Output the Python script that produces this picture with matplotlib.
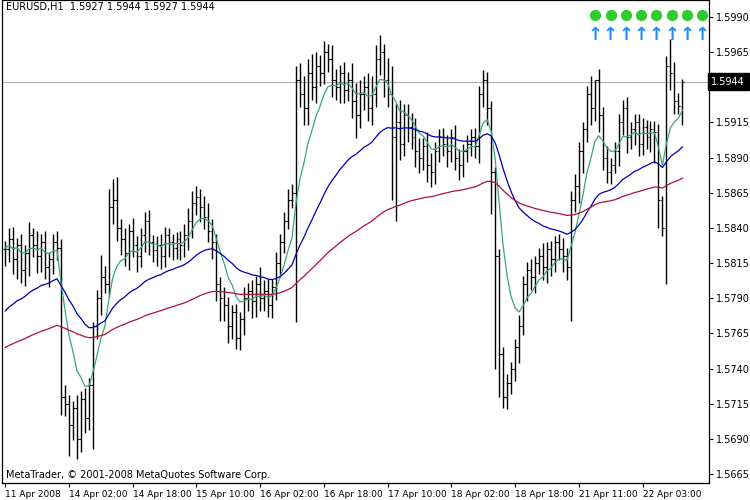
import numpy as np
import matplotlib
matplotlib.use("Agg")
import matplotlib.pyplot as plt

# hourly closes
closes = [1.5825, 1.5832, 1.5818, 1.5828, 1.5810, 1.5822, 1.5835, 1.5828, 1.5820, 1.5830,
          1.5812, 1.5818, 1.5830, 1.5826,
          1.5720,
          1.5715, 1.5700, 1.5712, 1.5690, 1.5718, 1.5705, 1.5728,
          1.5770,
          1.5790, 1.5805, 1.5800,
          1.5855, 1.5860, 1.5840,
          1.5832, 1.5822, 1.5838, 1.5828, 1.5820, 1.5835, 1.5845, 1.5830, 1.5824, 1.5828,
          1.5820, 1.5835, 1.5830, 1.5826, 1.5832, 1.5828,
          1.5835, 1.5845, 1.5858, 1.5862, 1.5855, 1.5848, 1.5838, 1.5830,
          1.5800, 1.5790, 1.5785, 1.5770, 1.5780, 1.5762, 1.5775, 1.5790,
          1.5795, 1.5788, 1.5800, 1.5790, 1.5795, 1.5785, 1.5798,
          1.5815, 1.5830, 1.5845, 1.5860, 1.5865,
          1.5945,
          1.5935, 1.5925, 1.5950, 1.5940, 1.5955, 1.5950, 1.5965, 1.5960, 1.5945, 1.5940,
          1.5950, 1.5938, 1.5945,
          1.5930, 1.5920, 1.5935, 1.5940, 1.5925, 1.5935, 1.5960, 1.5965, 1.5945,
          1.5935, 1.5905, 1.5915, 1.5900, 1.5920,
          1.5912, 1.5905, 1.5895, 1.5890, 1.5898, 1.5885, 1.5880, 1.5895, 1.5905, 1.5900,
          1.5895, 1.5905, 1.5890, 1.5885, 1.5895, 1.5900, 1.5905, 1.5898,
          1.5935, 1.5945, 1.5925,
          1.5880,
          1.5820, 1.5750,
          1.5720, 1.5730, 1.5740, 1.5755, 1.5770, 1.5800,
          1.5810, 1.5805, 1.5815, 1.5820, 1.5812, 1.5825, 1.5818, 1.5830, 1.5825, 1.5820, 1.5812,
          1.5860, 1.5870, 1.5895, 1.5910,
          1.5935, 1.5925, 1.5945, 1.5920,
          1.5890, 1.5880, 1.5885, 1.5895,
          1.5915, 1.5925, 1.5905, 1.5910, 1.5915, 1.5900, 1.5912, 1.5905, 1.5910, 1.5908,
          1.5860, 1.5840,
          1.5955,
          1.5950, 1.5930, 1.5927, 1.5944]

# wick above / below the bar body, in pips
wick_up = [6, 8, 9, 5, 8, 6, 9, 5, 10, 6, 8, 5, 6, 8,
           6,
           8, 6, 5, 9, 6, 8, 5,
           3,
           6, 16, 8,
           13, 15, 16,
           6, 8, 5, 9, 6, 5, 6, 8, 5, 6, 8, 6, 5, 6, 5, 6,
           8, 9, 8, 8, 6, 8, 10, 8,
           6, 5, 8, 6, 5, 6, 5, 8,
           6, 8, 6, 12, 8, 9, 6,
           8, 6, 6, 8, 6,
           10,
           12, 13, 10, 14, 10, 8, 8, 6, 10, 8, 6, 8, 6,
           12, 13, 10, 8, 10, 13, 10, 12, 6,
           16, 20, 13, 16, 8,
           8, 10, 13, 9, 6, 10, 8, 6, 5, 6, 6, 5, 8, 6, 5, 6, 5, 6,
           6, 7, 6,
           5,
           3, 5,
           5, 6, 5, 6, 8, 6,
           6, 8, 5, 6, 9, 5, 6, 4, 6, 8, 6,
           6, 8, 6, 5,
           6, 13, 0, 8,
           6, 8, 5, 6,
           6, 6, 8, 5, 6, 6, 6, 5, 6, 6,
           6, 3,
           7,
           19, 8, 6, 2]
wick_dn = [12, 9, 11, 14, 9, 11, 16, 9, 12, 11, 8, 14, 11, 9,
           13,
           9, 22, 11, 14, 9, 11, 9,
           45,
           9, 12, 6,
           9, 12, 9,
           11, 9, 12, 9, 11, 8, 12, 9, 8, 11, 9, 8, 11, 9, 8, 11,
           9, 11, 12, 9, 11, 9, 8, 12,
           12, 16, 11, 12, 9, 8, 9, 11,
           9, 12, 11, 9, 9, 8, 9,
           9, 8, 8, 6, 6,
           92,
           9, 12, 12, 9, 11, 9, 8, 9, 12, 9, 11, 9, 8,
           12, 16, 9, 11, 9, 12, 9, 11, 12,
           9, 45, 60, 12, 9,
           11, 9, 12, 11, 9, 12, 11, 9, 8, 9, 12, 8, 9, 11, 9, 8, 9, 8,
           12, 9, 12,
           30,
           80, 30,
           8, 9, 8, 9, 11, 6,
           12, 9, 11, 8, 9, 11, 12, 9, 8, 11, 9,
           38, 9, 12, 16,
           9, 12, 9, 12,
           9, 8, 9, 6,
           11, 9, 12, 9, 11, 9, 8, 9, 11, 22,
           20, 6,
           40,
           12, 9, 6, 14]

xlabels = ["11 Apr 2008", "14 Apr 02:00", "14 Apr 18:00", "15 Apr 10:00", "16 Apr 02:00",
           "16 Apr 18:00", "17 Apr 10:00", "18 Apr 02:00", "18 Apr 18:00", "21 Apr 11:00",
           "22 Apr 03:00"]

# moving averages: start levels at the left edge of the chart and spans
ma_start = [1.5826, 1.5781, 1.5755]
ma_span = [8, 34, 100]
ma_colors = ["#3aa57a", "#0000b0", "#b0103a"]


def ema(values, span, start):
    a = 2.0 / (span + 1)
    out = [start]
    for v in values[1:]:
        out.append(out[-1] + a * (v - out[-1]))
    return np.array(out)


c = np.array(closes)
o = np.concatenate([[c[0]], c[:-1]])
h = np.maximum(o, c) + np.array(wick_up) * 1e-4
l = np.minimum(o, c) - np.array(wick_dn) * 1e-4
n = len(c)
x = np.arange(n)

fig = plt.figure(figsize=(7.5, 5), dpi=100)
ax = fig.add_axes([0.003, 17 / 500, 707 / 750, 483 / 500])
ax.set_xlim(-0.75, 176.75)
px = 14062.0
ax.set_ylim(1.5990 - 466 / px, 1.5990 + 17 / px)

ax.axhline(1.5944, color="#b0b0b0", lw=0.8)

ax.vlines(x, l, h, color="black", lw=1)
ax.hlines(o, x - 0.45, x, color="black", lw=0.8)
ax.hlines(c, x, x + 0.45, color="black", lw=0.8)

for start, span, col in zip(ma_start, ma_span, ma_colors):
    ax.plot(x, ema(c, span, start), color=col, lw=0.9)

ax.yaxis.tick_right()
yt = np.arange(1.5665, 1.59901, 0.0025)
ax.set_yticks(yt)
ax.set_yticklabels(["%.4f" % v for v in yt], fontsize=7)
ax.set_xticks(np.arange(0, 161, 16))
ax.set_xticklabels(xlabels, fontsize=6.5, ha="left")
ax.tick_params(axis="both", length=3, width=0.8, color="black", pad=2)
for s in ax.spines.values():
    s.set_linewidth(0.9)

# current price box covers the 1.5940 tick label, as in MetaTrader
ax.text(1.003, 1.5944, "1.5944", transform=ax.get_yaxis_transform(), fontsize=7,
        color="white", va="center", ha="left", zorder=10, clip_on=False,
        bbox=dict(boxstyle="square,pad=0.35", fc="black", ec="black"))

ax.text(0.005, 0.995, "EURUSD,H1  1.5927 1.5944 1.5927 1.5944", transform=ax.transAxes,
        fontsize=7, va="top", ha="left")
ax.text(0.005, 0.006, "MetaTrader, © 2001-2008 MetaQuotes Software Corp.", transform=ax.transAxes,
        fontsize=7, va="bottom", ha="left")

sig_x = np.linspace(593, 700, 8) / 707
ax.scatter(sig_x, [1 - 15 / 483] * 8, transform=ax.transAxes, s=50, color="#2ecc2e",
           clip_on=False, zorder=5)
for sx in sig_x:
    ax.text(sx, 1 - 35 / 483, "\u2191", transform=ax.transAxes, fontsize=13,
            fontweight="bold", color="#1e8fff", ha="center", va="center")

fig.savefig("out.png", dpi=100)
